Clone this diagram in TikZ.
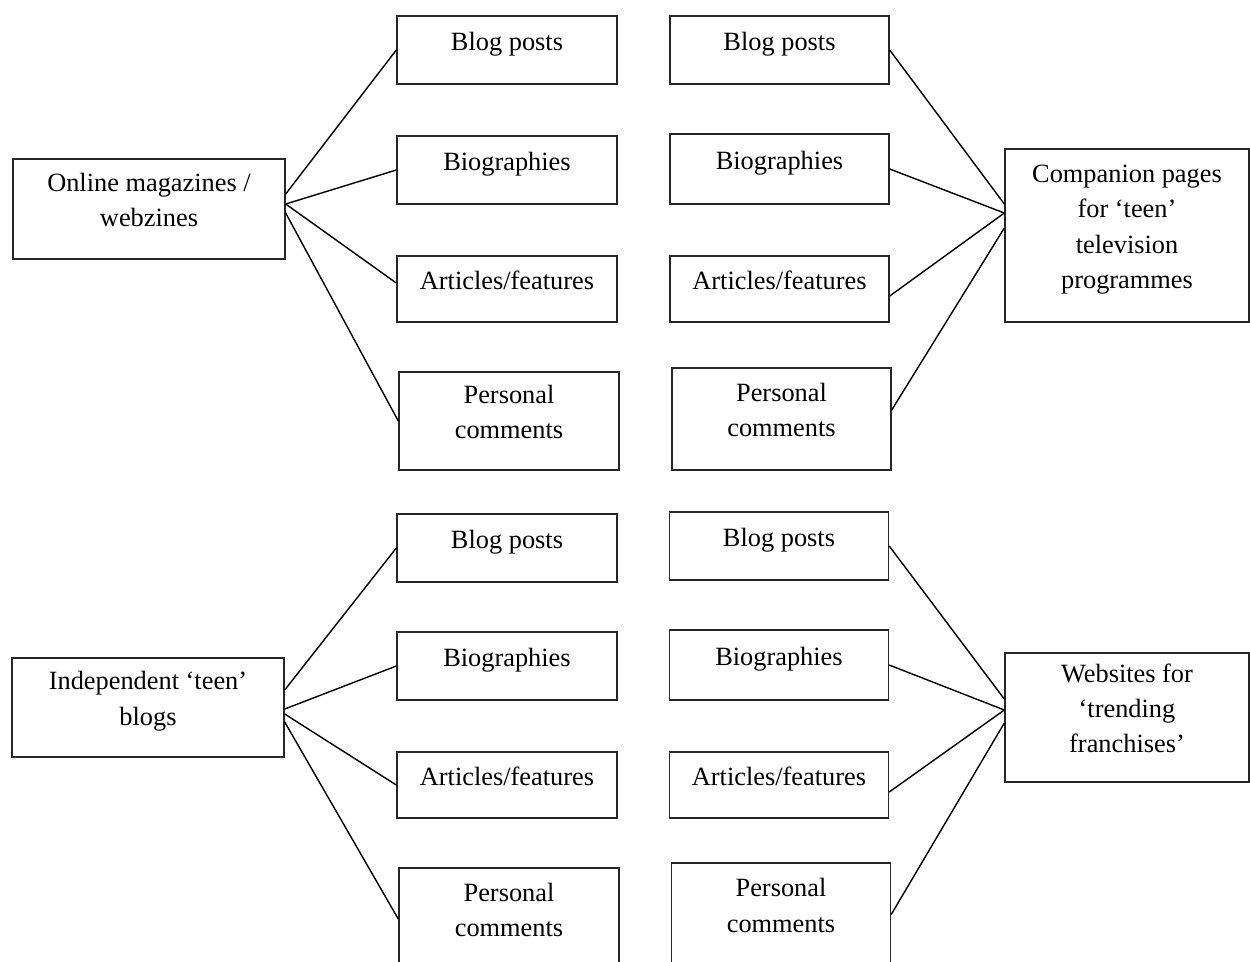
\documentclass[tikz,border=0pt]{standalone}
\usepackage{fontspec}
\setmainfont{Liberation Serif}
\usetikzlibrary{calc}
\newcommand{\px}{0.02cm}
\tikzset{entry/.style={draw=black!85,line width=0.8pt,inner sep=0pt,align=center,
		text height=#1,text depth=0pt,font=\fontsize{15}{20}\selectfont},entry/.default=0pt}
\tikzset{leaf/.style={entry=#1,minimum width=220*\px,minimum height=68*\px},leaf/.default=0pt}
\tikzset{source/.style={entry=#1,minimum width=272*\px,minimum height=100*\px},source/.default=20pt}
\tikzset{link/.style={line width=0.8pt}}

\begin{document}
\begin{tikzpicture}[x=\px,y=-\px]

		\useasboundingbox (0,0) rectangle (1250,961);
		\clip (0,0) rectangle (1250,961);

		\coordinate (O) at (149,209);
		\coordinate (C) at (1127,235.5);
		\coordinate (I) at (148,707.5);
		\coordinate (W) at (1127,717.5);

		\node [source] (online) at (O) {Online magazines /\\webzines};
		\node [leaf] (blogTL) at (507,50) {Blog posts};
		\node [leaf] (bioTL) at (507,170) {Biographies};
		\node [leaf,minimum height=66*\px] (artTL) at (507,289) {Articles/features};
		\node [leaf=20pt,minimum height=98*\px] (perTL) at (509,421) {Personal\\comments};

		\node [source=60pt,minimum width=244*\px,minimum height=173*\px] (companion) at (C)
			{Companion pages\\for ‘teen’\\television\\programmes};
		\node [leaf,minimum width=219*\px] (blogTR) at (779.5,50) {Blog posts};
		\node [leaf,minimum width=219*\px,minimum height=70*\px] (bioTR) at (779.5,169) {Biographies};
		\node [leaf,minimum width=219*\px,minimum height=66*\px] (artTR) at (779.5,289) {Articles/features};
		\node [leaf=20pt,minimum width=219*\px,minimum height=102*\px] (perTR) at (781.5,419) {Personal\\comments};

		\node [source,minimum height=99*\px] (independent) at (I) {Independent ‘teen’\\blogs};
		\node [leaf] (blogBL) at (507,548) {Blog posts};
		\node [leaf] (bioBL) at (507,666) {Biographies};
		\node [leaf,minimum height=66*\px] (artBL) at (507,785) {Articles/features};
		\node [leaf=20pt,minimum height=102*\px] (perBL) at (509,919) {Personal\\comments};

		\node [source=40pt,minimum width=244*\px,minimum height=129*\px] (websites) at (W)
			{Websites for\\‘trending\\franchises’};
		\node [leaf,minimum width=219*\px] (blogBR) at (779,546) {Blog posts};
		\node [leaf,minimum width=219*\px,minimum height=70*\px] (bioBR) at (779,665) {Biographies};
		\node [leaf,minimum width=219*\px,minimum height=66*\px] (artBR) at (779,785) {Articles/features};
		\node [leaf=20pt,minimum width=219*\px,minimum height=103*\px] (perBR) at (781,914.5) {Personal\\comments};

		\draw [link] ($(online.east)+(0,-15)$) -- (blogTL.west);
		\draw [link] ($(online.east)+(0,-5)$) -- (bioTL.west);
		\draw [link] ($(online.east)+(0,-5)$) -- ($(artTL.west)+(0,-6)$);
		\draw [link] ($(online.east)+(0,4)$) -- (perTL.west);

		\draw [link] (blogTR.east) -- ($(companion.west)+(0,-31.5)$);
		\draw [link] (bioTR.east) -- ($(companion.west)+(0,-22.5)$);
		\draw [link] ($(artTR.east)+(0,7)$) -- ($(companion.west)+(0,-22.5)$);
		\draw [link] ($(perTR.east)+(0,-9)$) -- ($(companion.west)+(0,-7.5)$);

		\draw [link] ($(independent.east)+(0,-17.5)$) -- (blogBL.west);
		\draw [link] ($(independent.east)+(0,1.5)$) -- (bioBL.west);
		\draw [link] ($(independent.east)+(0,6.5)$) -- (artBL.west);
		\draw [link] ($(independent.east)+(0,14.5)$) -- (perBL.west);

		\draw [link] (blogBR.east) -- ($(websites.west)+(0,-18.5)$);
		\draw [link] (bioBR.east) -- ($(websites.west)+(0,-7.5)$);
		\draw [link] ($(artBR.east)+(0,7)$) -- ($(websites.west)+(0,-7.5)$);
		\draw [link] (perBR.east) -- ($(websites.west)+(0,5.5)$);

	\end{tikzpicture}
\end{document}
